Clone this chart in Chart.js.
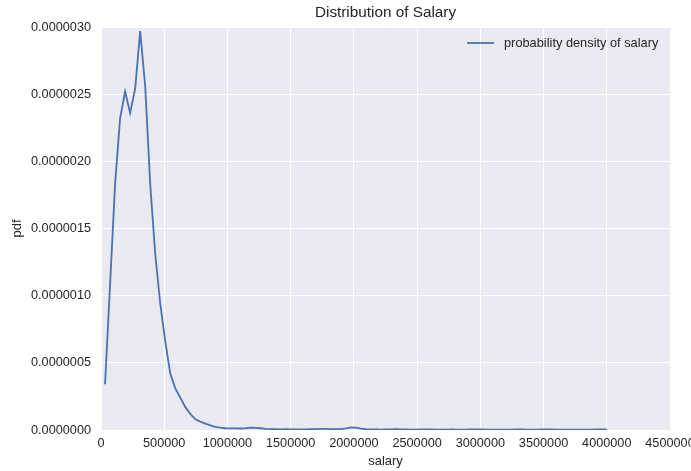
<!DOCTYPE html>
<html>
<head>
<meta charset="utf-8">
<script src="https://cdn.jsdelivr.net/npm/chart.js@4.4.1/dist/chart.umd.min.js"></script>
<style>
html,body{margin:0;padding:0;background:#fff;}
#wrap{width:691px;height:471px;position:relative;}
</style>
</head>
<body>
<div id="wrap"><canvas id="c" width="691" height="471"></canvas></div>
<script>
const salary = [32000,71680,111360,151040,190720,230400,270080,309760,349440,389120,
428800,468480,508160,547840,587520,627200,666880,706560,746240,785920,
825600,865280,904960,944640,984320,1024000,1063680,1103360,1143040,1182720,
1222400,1262080,1301760,1341440,1381120,1420800,1460480,1500160,1539840,1579520,
1619200,1658880,1698560,1738240,1777920,1817600,1857280,1896960,1936640,1976320,
2016000,2055680,2095360,2135040,2174720,2214400,2254080,2293760,2333440,2373120,
2412800,2452480,2492160,2531840,2571520,2611200,2650880,2690560,2730240,2769920,
2809600,2849280,2888960,2928640,2968320,3008000,3047680,3087360,3127040,3166720,
3206400,3246080,3285760,3325440,3365120,3404800,3444480,3484160,3523840,3563520,
3603200,3642880,3682560,3722240,3761920,3801600,3841280,3880960,3920640,3960320,
4000000];
const pdf = [3.4e-7,1.08e-6,1.83e-6,2.32e-6,2.52e-6,2.36e-6,2.54e-6,2.97e-6,2.56e-6,1.83e-6,
1.31e-6,9.4e-7,6.6e-7,4.2e-7,3.1e-7,2.4e-7,1.7e-7,1.2e-7,8.0e-8,6.2e-8,
4.8e-8,3.4e-8,2.4e-8,1.7e-8,1.3e-8,1.2e-8,1.2e-8,1.1e-8,1.3e-8,1.8e-8,
1.6e-8,1.3e-8,9e-9,7e-9,6e-9,5e-9,6e-9,5e-9,4e-9,4e-9,
5e-9,6e-9,7e-9,8e-9,9e-9,7e-9,6e-9,7e-9,1.2e-8,2.0e-8,
1.8e-8,1.0e-8,6e-9,4e-9,4e-9,3e-9,4e-9,5e-9,6e-9,5e-9,
4e-9,3e-9,3e-9,4e-9,5e-9,4e-9,3e-9,3e-9,3e-9,4e-9,
3e-9,3e-9,3e-9,4e-9,5e-9,4e-9,3e-9,3e-9,3e-9,3e-9,
3e-9,3e-9,4e-9,4e-9,3e-9,3e-9,3e-9,4e-9,5e-9,4e-9,
3e-9,3e-9,3e-9,3e-9,3e-9,3e-9,3e-9,3e-9,4e-9,4e-9,
5e-9];
const xTicks = [0,500000,1000000,1500000,2000000,2500000,3000000,3500000,4000000,4500000];
const yTicks = [0,5e-7,1e-6,1.5e-6,2e-6,2.5e-6,3e-6];
const titleText = "Distribution of Salary";
const xLabel = "salary";
const yLabel = "pdf";
const seriesLabel = "probability density of salary";

const FONT = "'Liberation Sans', Arial, sans-serif";
const TXT = "#262626";

const bgPlugin = {
  id: 'bg',
  beforeDraw(chart) {
    const {ctx, chartArea: a} = chart;
    ctx.save();
    ctx.fillStyle = '#EAEAF2';
    ctx.fillRect(a.left, a.top, a.right - a.left, a.bottom - a.top);
    ctx.restore();
  },
  afterDraw(chart) {
    const {ctx, chartArea: a} = chart;
    ctx.save();
    ctx.fillStyle = TXT;
    ctx.textAlign = 'center';
    ctx.textBaseline = 'middle';
    ctx.font = "15.3px " + FONT;
    ctx.fillText(titleText, (a.left + a.right) / 2, 13);
    ctx.font = "13px " + FONT;
    ctx.fillText(xLabel, (a.left + a.right) / 2, 461);
    ctx.save();
    ctx.translate(17, (a.top + a.bottom) / 2);
    ctx.rotate(-Math.PI / 2);
    ctx.fillText(yLabel, 0, 0);
    ctx.restore();
    // legend
    ctx.strokeStyle = '#4C72B0';
    ctx.lineWidth = 1.8;
    ctx.beginPath();
    ctx.moveTo(467, 43);
    ctx.lineTo(494, 43);
    ctx.stroke();
    ctx.textAlign = 'left';
    ctx.font = "12.8px " + FONT;
    ctx.fillText(seriesLabel, 504, 43);
    ctx.restore();
  }
};

new Chart(document.getElementById('c'), {
  type: 'line',
  data: {
    datasets: [{
      label: seriesLabel,
      data: salary.map((s, i) => ({x: s, y: pdf[i]})),
      borderColor: '#4C72B0',
      borderWidth: 1.8,
      pointRadius: 0,
      tension: 0,
      fill: false
    }]
  },
  options: {
    responsive: false,
    animation: false,
    layout: {padding: {top: 27, right: 21, left: 0, bottom: 0}},
    plugins: {legend: {display: false}, title: {display: false}, tooltip: {enabled: false}},
    scales: {
      x: {
        type: 'linear',
        min: 0, max: 4500000,
        afterBuildTicks(s) { s.ticks = xTicks.map(v => ({value: v})); },
        afterFit(s) { s.height = 41; s.paddingLeft = 0; s.paddingRight = 0; },
        grid: {color: '#ffffff', lineWidth: 1, drawTicks: false},
        border: {display: false},
        ticks: {
          color: TXT, padding: 6, maxRotation: 0, autoSkip: false,
          font: {family: FONT, size: 12.7},
          callback: v => String(v)
        }
      },
      y: {
        type: 'linear',
        min: 0, max: 3e-6,
        afterBuildTicks(s) { s.ticks = yTicks.map(v => ({value: v})); },
        afterFit(s) { s.width = 101; s.paddingTop = 0; s.paddingBottom = 0; },
        grid: {color: '#ffffff', lineWidth: 1, drawTicks: false},
        border: {display: false},
        ticks: {
          color: TXT, padding: 10,
          font: {family: FONT, size: 12.7},
          callback: v => Number(v).toFixed(7)
        }
      }
    }
  },
  plugins: [bgPlugin]
});
</script>
</body>
</html>
